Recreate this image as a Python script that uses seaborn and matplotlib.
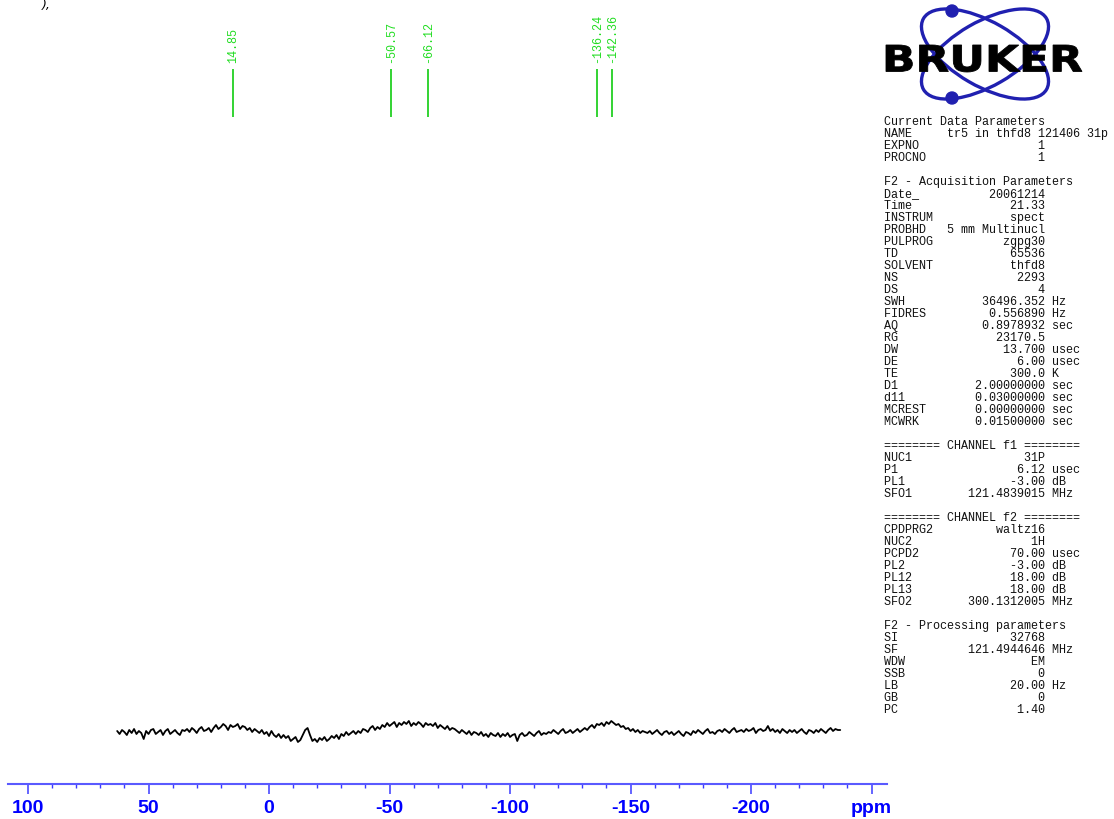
import numpy as np
import pandas as pd
import matplotlib
matplotlib.use("Agg")
import matplotlib.pyplot as plt
import seaborn as sns
from matplotlib.patches import Ellipse, Circle, PathPatch
from matplotlib.textpath import TextPath
from matplotlib.font_manager import FontProperties
from matplotlib.transforms import Affine2D

W, H = 1114, 819

# ---------------- data ----------------
ppm_start, ppm_end = 63.0, -237.0
intensity = [
    1, -2, 2, 0, -3, 2, -1, 3, -2, 1,
    -1, -7, 1, -2, 2, 3, -2, 0, 2, -3,
    1, 3, -2, 0, 2, -1, -3, 2, 1, 3,
    0, 4, 2, -1, 3, 5, 1, 2, 4, 0,
    4, 7, 3, 5, 8, 6, 2, 7, 5, 6,
    8, 3, 6, 5, 2, 4, 0, 3, 1, -1,
    2, -2, 0, -4, 1, -3, -5, -2, -6, -3,
    -6, -4, -9, -7, -5, -10, -8, -3, 2, 4,
    -3, -9, -7, -10, -6, -8, -5, -9, -7, -4,
    -6, -3, -7, -2, -4, 0, -3, -1, 1, -2,
    1, -1, 3, 2, 0, 4, 6, 2, 5, 3,
    7, 5, 9, 6, 8, 10, 5, 9, 7, 10,
    8, 11, 6, 9, 7, 10, 8, 5, 9, 7,
    8, 6, 9, 4, 7, 5, 3, 6, 2, 4,
    3, 1, -1, 2, 0, -2, 1, -3, 0, -1,
    -3, 0, -4, -2, -5, -1, -3, -4, -1, -5,
    -2, -4, -1, -5, -3, -2, -9, -3, -1, -4,
    -3, 0, -2, -4, -1, 1, -3, -1, -2, 0,
    -1, 2, 0, -2, 1, 3, -1, 0, 2, -1,
    1, 3, 0, 2, 4, 2, 5, 7, 4, 8,
    7, 9, 6, 10, 8, 11, 9, 7, 8, 5,
    6, 3, 4, 1, 3, 0, 2, -1, 1, 0,
    -1, 1, -2, 0, 2, -1, -3, 0, 1, -2,
    0, -3, -1, 1, -2, -4, 0, -1, -3, 1,
    -1, 2, 0, -2, 1, 3, -1, 0, -2, 1,
    2, 0, 3, 1, -1, 2, 4, 0, 1, 2,
    0, 3, 1, 2, 4, -1, 2, 3, 1, 2,
    6, 1, 3, 0, 2, -1, 3, 1, -1, 2,
    0, 2, -1, 1, 3, 0, -2, 2, 1, -1,
    2, 0, 3, 1, -1, 2, 4, 1, 3, 2,
    2,
]

peak_ppm = [14.85, -50.57, -66.12, -136.24, -142.36]
peak_labels = ["14.85", "-50.57", "-66.12", "-136.24", "-142.36"]

tick_ppm = [100, 50, 0, -50, -100, -150, -200, -250]
tick_labels = ["100", "50", "0", "-50", "-100", "-150", "-200", "ppm"]
minor_ppm = list(range(100, -260, -10))

current_header = "Current Data Parameters"
current_labels = ["NAME", "EXPNO", "PROCNO"]
current_values = ["tr5 in thfd8 121406 31p", "1", "1"]
current_units = ["", "", ""]

acq_header = "F2 - Acquisition Parameters"
acq_labels = ["Date_", "Time", "INSTRUM", "PROBHD", "PULPROG", "TD", "SOLVENT",
              "NS", "DS", "SWH", "FIDRES", "AQ", "RG", "DW", "DE", "TE", "D1",
              "d11", "MCREST", "MCWRK"]
acq_values = ["20061214", "21.33", "spect", "5 mm Multinucl", "zgpg30", "65536",
              "thfd8", "2293", "4", "36496.352", "0.556890", "0.8978932",
              "23170.5", "13.700", "6.00", "300.0", "2.00000000", "0.03000000",
              "0.00000000", "0.01500000"]
acq_units = ["", "", "", "", "", "", "", "", "", "Hz", "Hz", "sec", "", "usec",
             "usec", "K", "sec", "sec", "sec", "sec"]

f1_header = "======== CHANNEL f1 ========"
f1_labels = ["NUC1", "P1", "PL1", "SFO1"]
f1_values = ["31P", "6.12", "-3.00", "121.4839015"]
f1_units = ["", "usec", "dB", "MHz"]

f2_header = "======== CHANNEL f2 ========"
f2_labels = ["CPDPRG2", "NUC2", "PCPD2", "PL2", "PL12", "PL13", "SFO2"]
f2_values = ["waltz16", "1H", "70.00", "-3.00", "18.00", "18.00", "300.1312005"]
f2_units = ["", "", "usec", "dB", "dB", "dB", "MHz"]

proc_header = "F2 - Processing parameters"
proc_labels = ["SI", "SF", "WDW", "SSB", "LB", "GB", "PC"]
proc_values = ["32768", "121.4944646", "EM", "0", "20.00", "0", "1.40"]
proc_units = ["", "MHz", "", "", "Hz", "", ""]

# ---------------- style ----------------
sns.set_theme(style="white")
plt.rcParams['font.family'] = ['DejaVu Sans']

fig = plt.figure(figsize=(W / 100, H / 100), dpi=100)
fig.patch.set_facecolor("white")

AX_L, AX_R, AX_B = 8, 887, 784
ax = fig.add_axes([AX_L / W, (H - AX_B) / H, (AX_R - AX_L) / W, AX_B / H])
ax.patch.set_visible(False)

df = pd.DataFrame({
    "ppm": np.linspace(ppm_start, ppm_end, len(intensity)),
    "intensity": intensity,
})
sns.lineplot(data=df, x="ppm", y="intensity", ax=ax, color="black",
             linewidth=1.3, sort=False, estimator=None)

ax.set_xlim(108.3, -256.4)
ax.set_ylim(-52, 732)

# peak picks
green = "#22dd22"
xt = ax.get_xaxis_transform()
ax.vlines(peak_ppm, (AX_B - 117) / AX_B, (AX_B - 69) / AX_B, transform=xt,
          color="#11cc11", linewidth=1.2)
for p, lab in zip(peak_ppm, peak_labels):
    ax.text(p, (AX_B - 63) / AX_B, lab, transform=xt, rotation=90,
            ha="center", va="bottom", color=green, fontsize=8.5,
            family="Liberation Mono")

# axes styling
for s in ["left", "top", "right"]:
    ax.spines[s].set_visible(False)
ax.spines["bottom"].set_color("#5a5aff")
ax.spines["bottom"].set_linewidth(1.5)
ax.set_yticks([])
ax.set_xticks(tick_ppm)
ax.set_xticklabels(tick_labels)
ax.set_xticks(minor_ppm, minor=True)
ax.tick_params(axis="x", which="major", direction="out", length=7.5, width=1.1,
               color="#3a3aff", labelcolor="#0000ff", labelsize=14, pad=4,
               bottom=True)
ax.tick_params(axis="x", which="minor", direction="out", length=3, width=1.0,
               color="#3a3aff", bottom=True)
for t in ax.get_xticklabels():
    t.set_fontweight("bold")
    t.set_family("Liberation Sans")
ax.set_xlabel("")
ax.set_ylabel("")
ax.grid(False)

# ---------------- Bruker logo ----------------
lax = fig.add_axes([880 / W, 1 - 112 / H, 210 / W, 112 / H])
lax.set_xlim(880, 1090)
lax.set_ylim(112, 0)
lax.axis("off")
blue = "#2020b0"
lax.add_patch(Ellipse((985, 54), 142, 64, angle=30, fill=False,
                      edgecolor=blue, linewidth=2.4))
lax.add_patch(Ellipse((985, 54), 142, 64, angle=-30, fill=False,
                      edgecolor=blue, linewidth=2.4))
lax.add_patch(Circle((952, 11), 6, color=blue))
lax.add_patch(Circle((952, 98), 6, color=blue))
tp = TextPath((0, 0), "BRUKER", size=1,
              prop=FontProperties(family="DejaVu Sans", weight="bold"))
ext = tp.get_extents()
tr = (Affine2D().translate(-ext.x0, -ext.y0)
      .scale(196 / ext.width, -27 / ext.height).translate(886, 72))
lax.add_patch(PathPatch(tr.transform_path(tp), facecolor="black",
                        edgecolor="black", linewidth=0.6, zorder=3))

# ---------------- parameter text ----------------
blocks = [
    (current_header, current_labels, current_values, current_units),
    (acq_header, acq_labels, acq_values, acq_units),
    (f1_header, f1_labels, f1_values, f1_units),
    (f2_header, f2_labels, f2_values, f2_units),
    (proc_header, proc_labels, proc_values, proc_units),
]
lines = []
for bi, (hdr, labs, vals, units) in enumerate(blocks):
    if bi > 0:
        lines.append("")
    lines.append(hdr)
    for lab, val, unit in zip(labs, vals, units):
        s = lab.ljust(9) + val.rjust(14)
        if unit:
            s += " " + unit
        lines.append(s)

y0, dy = 122, 12.0
for i, s in enumerate(lines):
    if s:
        fig.text(884 / W, 1 - (y0 + i * dy) / H, s, ha="left", va="center",
                 fontsize=8.5, family="Liberation Mono", color="#111111")

# small mark at top-left corner of the reference
fig.text(42 / W, 1 - 5 / H, "),", ha="left", va="center", fontsize=9,
         style="italic", color="black")

fig.savefig("out.png", dpi=100, facecolor="white")
